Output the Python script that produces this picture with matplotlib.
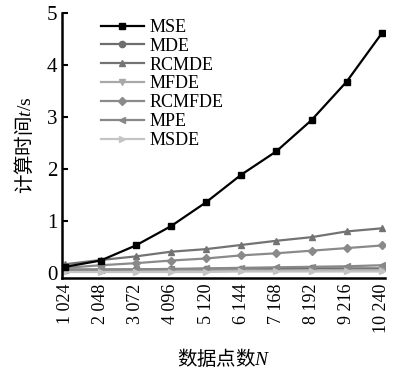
import matplotlib
matplotlib.use("Agg")
import matplotlib.pyplot as plt

plt.rcParams['font.family'] = ['Liberation Serif', 'Noto Sans CJK SC']
plt.rcParams['mathtext.fontset'] = 'custom'
plt.rcParams['mathtext.it'] = 'Liberation Serif:italic'
plt.rcParams['mathtext.rm'] = 'Liberation Serif'

# data points N
n_points = [1024, 2048, 3072, 4096, 5120, 6144, 7168, 8192, 9216, 10240]
tick_labels = ["1 024", "2 048", "3 072", "4 096", "5 120", "6 144",
               "7 168", "8 192", "9 216", "10 240"]

mse = [0.12, 0.24, 0.53, 0.90, 1.36, 1.89, 2.34, 2.94, 3.68, 4.61]
mde = [0.07, 0.07, 0.07, 0.07, 0.08, 0.08, 0.08, 0.09, 0.09, 0.09]
rcmde = [0.17, 0.25, 0.32, 0.41, 0.46, 0.54, 0.62, 0.69, 0.80, 0.86]
mfde = [0.04, 0.04, 0.04, 0.05, 0.05, 0.05, 0.05, 0.05, 0.06, 0.06]
rcmfde = [0.10, 0.15, 0.19, 0.24, 0.28, 0.34, 0.38, 0.43, 0.48, 0.53]
mpe = [0.05, 0.06, 0.07, 0.08, 0.09, 0.10, 0.11, 0.12, 0.13, 0.15]
msde = [0.02, 0.02, 0.02, 0.02, 0.02, 0.03, 0.03, 0.03, 0.03, 0.03]

fig = plt.figure(figsize=(3.96, 3.71), dpi=100)
ax = fig.add_axes([0.157, 0.25, 0.815, 0.715])

ms = 4.5
ax.plot(n_points, mse, color="#000000", marker="s", ms=ms, lw=1.6, label="MSE", zorder=9)
ax.plot(n_points, mde, color="#6e6e6e", marker="o", ms=ms, lw=1.6, label="MDE")
ax.plot(n_points, rcmde, color="#737373", marker="^", ms=ms, lw=1.6, label="RCMDE")
ax.plot(n_points, mfde, color="#a8a8a8", marker="v", ms=ms, lw=1.6, label="MFDE")
ax.plot(n_points, rcmfde, color="#8a8a8a", marker="D", ms=ms - 0.5, lw=1.6, label="RCMFDE")
ax.plot(n_points, mpe, color="#888888", marker="<", ms=ms, lw=1.6, label="MPE")
ax.plot(n_points, msde, color="#c4c4c4", marker=">", ms=ms, lw=1.6, label="MSDE")

ax.set_xlim(930, 10330)
ax.set_ylim(-0.1, 5)
ax.set_yticks([0, 1, 2, 3, 4, 5])
ax.set_xticks(n_points)
ax.set_xticklabels(tick_labels, rotation=90, fontsize=13)
ax.tick_params(axis="y", labelsize=15, direction="in", length=4, width=1.5)
ax.tick_params(axis="x", direction="in", length=0, pad=4)

for s in ["top", "right"]:
    ax.spines[s].set_visible(False)
ax.spines["left"].set_linewidth(1.8)
ax.spines["bottom"].set_linewidth(1.8)

cjk = ['Noto Sans CJK SC', 'Liberation Serif']
ax.set_ylabel(r"计算时间$t/\mathrm{s}$", fontsize=14, labelpad=8, family=cjk)
ax.set_xlabel("数据点数$N$", fontsize=14, labelpad=10, family=cjk)

ax.legend(loc="upper left", bbox_to_anchor=(0.08, 1.025), frameon=False,
          fontsize=13, handlelength=2.4, labelspacing=0.1, handletextpad=0.3,
          borderpad=0.2)

plt.savefig("out.png", dpi=100)
